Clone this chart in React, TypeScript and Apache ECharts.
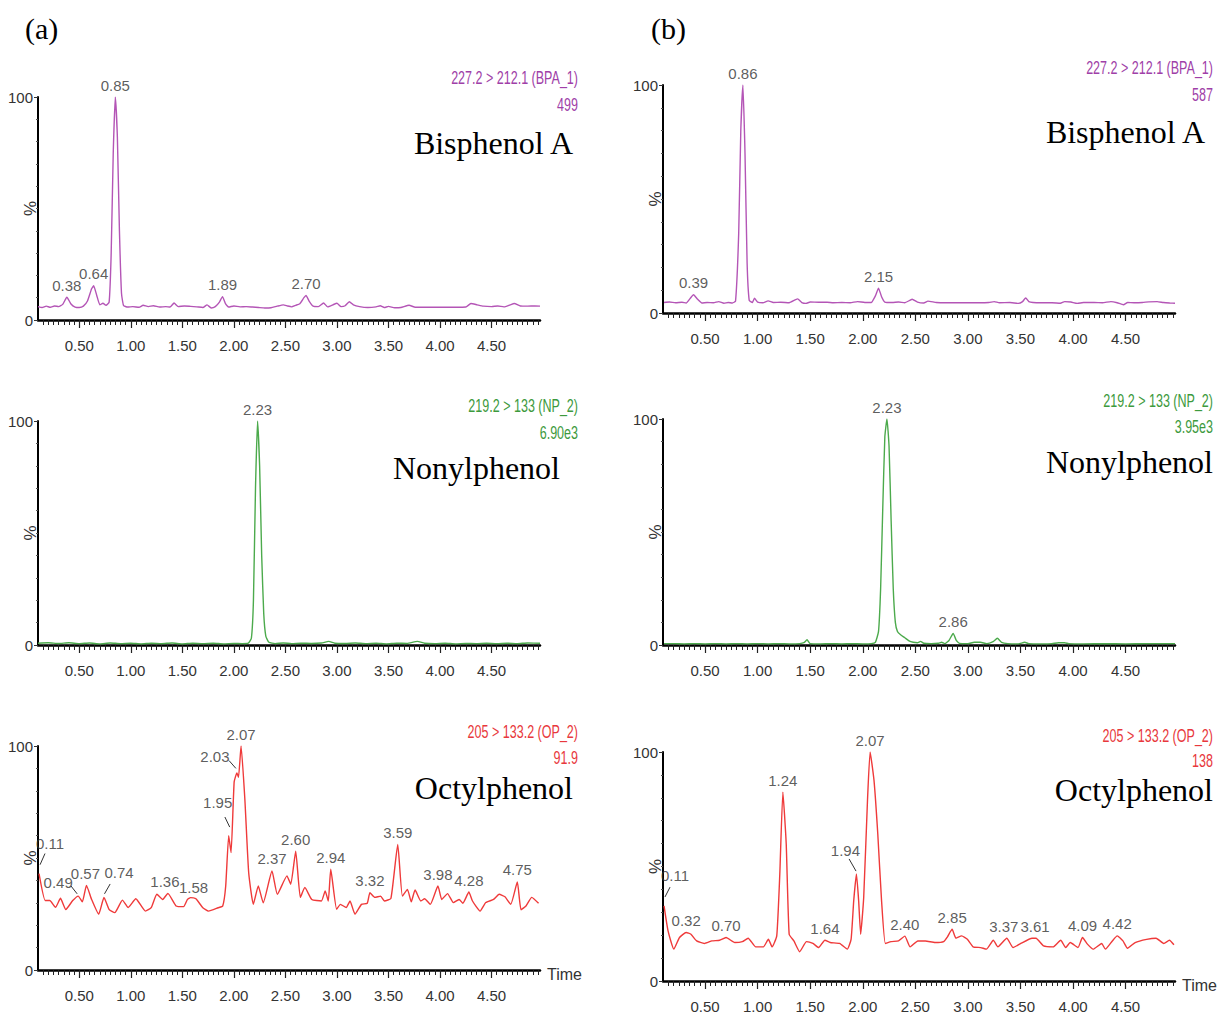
import React, { useEffect, useRef } from "react";
import * as echarts from "echarts";

// ---------- DATA ----------
const BPA_A: number[][] = [[0.10,6.0],[0.14,5.6],[0.18,6.2],[0.22,5.7],[0.26,6.3],[0.30,6.0],[0.34,7.0],[0.38,10.2],[0.42,7.2],[0.46,5.8],[0.50,5.6],[0.54,6.2],[0.58,8.5],[0.62,14.0],[0.64,15.4],[0.67,11.0],[0.70,6.8],[0.73,7.5],[0.76,6.6],[0.79,8.0],[0.81,30],[0.83,75],[0.85,100],[0.87,82],[0.89,40],[0.91,12],[0.93,6.5],[0.97,5.8],[1.02,6.0],[1.08,5.7],[1.12,6.6],[1.17,6.0],[1.22,6.4],[1.28,5.8],[1.34,6.0],[1.38,5.8],[1.42,7.6],[1.46,6.0],[1.52,6.3],[1.58,6.1],[1.64,5.9],[1.70,5.6],[1.74,6.8],[1.78,5.4],[1.82,6.0],[1.86,8.0],[1.89,10.5],[1.92,7.2],[1.95,5.8],[2.00,6.3],[2.06,5.9],[2.12,6.0],[2.18,5.8],[2.24,5.6],[2.30,5.4],[2.36,5.5],[2.42,6.2],[2.48,6.8],[2.52,6.3],[2.56,5.9],[2.60,6.6],[2.64,7.3],[2.68,10.0],[2.70,11.0],[2.73,8.5],[2.77,6.2],[2.82,6.0],[2.87,7.6],[2.91,5.9],[2.96,6.8],[3.00,7.5],[3.04,6.0],[3.08,6.4],[3.12,8.2],[3.16,6.8],[3.22,6.0],[3.30,5.6],[3.38,5.9],[3.42,6.4],[3.46,5.6],[3.50,6.1],[3.56,5.5],[3.62,5.6],[3.70,6.6],[3.76,5.7],[3.85,5.7],[3.95,5.7],[4.05,5.7],[4.15,5.7],[4.25,5.8],[4.30,7.4],[4.36,6.8],[4.42,6.2],[4.50,6.0],[4.56,6.3],[4.62,5.9],[4.68,6.8],[4.72,7.4],[4.78,6.3],[4.85,6.2],[4.92,6.3],[4.97,6.2]];
const BPA_B: number[][] = [[0.11,4.6],[0.16,4.8],[0.22,4.5],[0.28,4.7],[0.32,4.4],[0.36,6.5],[0.39,8.0],[0.43,6.0],[0.47,4.4],[0.52,4.6],[0.58,4.5],[0.63,5.0],[0.68,4.3],[0.72,4.6],[0.76,4.4],[0.79,5.2],[0.82,35],[0.84,80],[0.86,100],[0.88,70],[0.90,22],[0.92,5.5],[0.95,4.6],[0.97,6.5],[1.00,4.8],[1.05,4.5],[1.10,5.3],[1.15,4.6],[1.22,4.7],[1.30,4.5],[1.38,6.2],[1.42,4.6],[1.46,4.2],[1.50,4.8],[1.58,4.7],[1.66,4.7],[1.72,4.5],[1.80,4.6],[1.88,4.5],[1.95,5.0],[2.02,4.6],[2.08,4.6],[2.12,7.5],[2.15,10.9],[2.18,7.0],[2.21,4.8],[2.28,4.6],[2.34,4.8],[2.40,4.5],[2.47,6.0],[2.52,4.8],[2.58,4.4],[2.62,5.2],[2.70,4.6],[2.80,4.5],[2.90,4.5],[3.00,4.5],[3.10,4.5],[3.20,4.6],[3.25,5.0],[3.30,4.5],[3.40,4.6],[3.48,4.2],[3.52,5.0],[3.55,6.6],[3.58,5.0],[3.62,4.6],[3.70,4.5],[3.80,4.5],[3.88,4.3],[3.92,5.0],[3.98,4.8],[4.04,4.2],[4.10,4.6],[4.20,4.6],[4.28,4.5],[4.36,5.0],[4.42,4.5],[4.48,3.6],[4.52,4.6],[4.58,4.5],[4.66,4.6],[4.72,4.9],[4.80,5.0],[4.86,4.6],[4.92,4.4],[4.97,4.3]];
const NP_A: number[][] = [[0.10,0.8],[0.20,1.0],[0.30,0.7],[0.40,1.0],[0.50,0.6],[0.60,0.9],[0.70,0.5],[0.80,0.9],[0.90,0.6],[1.00,0.8],[1.10,0.5],[1.20,0.8],[1.30,0.6],[1.40,0.9],[1.50,0.5],[1.60,0.8],[1.70,0.6],[1.80,0.8],[1.90,0.5],[2.00,0.7],[2.08,0.6],[2.14,0.8],[2.17,3],[2.19,20],[2.21,70],[2.23,100],[2.25,80],[2.27,40],[2.29,14],[2.31,4],[2.34,1.2],[2.40,0.6],[2.48,0.9],[2.56,0.6],[2.65,0.8],[2.75,0.7],[2.85,0.9],[2.92,1.6],[2.98,0.8],[3.08,0.7],[3.18,0.9],[3.28,0.6],[3.38,0.8],[3.48,0.5],[3.58,0.8],[3.68,0.7],[3.78,1.6],[3.85,0.8],[3.95,0.6],[4.05,0.8],[4.15,0.5],[4.25,0.7],[4.35,0.6],[4.45,0.8],[4.55,0.6],[4.65,0.8],[4.75,0.6],[4.85,0.9],[4.97,0.8]];
const NP_B: number[][] = [[0.11,0.6],[0.20,0.6],[0.30,0.5],[0.40,0.6],[0.50,0.5],[0.60,0.6],[0.70,0.5],[0.80,0.6],[0.90,0.5],[1.00,0.6],[1.10,0.5],[1.20,0.6],[1.30,0.5],[1.40,0.6],[1.44,1.0],[1.47,2.3],[1.50,0.6],[1.60,0.5],[1.70,0.6],[1.80,0.5],[1.90,0.6],[2.00,0.5],[2.08,0.6],[2.12,1.2],[2.15,6],[2.17,25],[2.19,60],[2.21,92],[2.23,100],[2.25,88],[2.27,55],[2.29,25],[2.31,10],[2.33,6],[2.36,4.5],[2.40,3.2],[2.44,1.8],[2.48,1.2],[2.52,1.0],[2.55,1.6],[2.58,0.8],[2.65,0.6],[2.72,0.8],[2.75,1.2],[2.78,0.6],[2.82,2.0],[2.86,5.1],[2.89,2.0],[2.92,0.7],[3.00,0.6],[3.06,1.2],[3.12,1.2],[3.18,0.6],[3.24,1.5],[3.28,3.0],[3.32,1.2],[3.38,0.6],[3.48,0.5],[3.54,1.2],[3.58,0.6],[3.70,0.5],[3.80,0.6],[3.86,1.0],[3.92,1.0],[3.96,0.6],[4.10,0.5],[4.30,0.6],[4.50,0.5],[4.70,0.6],[4.97,0.6]];
const OP_A: number[][] = [[0.11,43],[0.17,31],[0.214,31],[0.27,28],[0.318,32],[0.37,27],[0.437,31],[0.49,33],[0.53,30.4],[0.57,37.8],[0.62,31.5],[0.689,24.9],[0.74,32.4],[0.789,27.1],[0.845,25.6],[0.919,31.2],[0.975,27.9],[1.049,31.8],[1.142,26.3],[1.198,27.8],[1.253,33.8],[1.309,31.5],[1.36,34.2],[1.439,28.6],[1.513,28.3],[1.55,31.5],[1.58,32.3],[1.632,31.8],[1.699,27.8],[1.754,26.3],[1.847,27.8],[1.892,28.6],[1.921,37.5],[1.95,60],[1.973,52.4],[2.003,84],[2.03,88],[2.045,86],[2.07,100],[2.107,76],[2.144,43.4],[2.189,29.3],[2.237,37.5],[2.285,30],[2.37,44.2],[2.422,33.8],[2.515,42],[2.552,38.3],[2.60,53],[2.645,32.4],[2.689,36.8],[2.756,31.5],[2.849,30.8],[2.886,35.3],[2.916,30.8],[2.94,45],[2.997,27.1],[3.034,29.3],[3.090,27.9],[3.127,30.8],[3.175,24.9],[3.238,29.3],[3.294,29.8],[3.32,34.5],[3.368,32.4],[3.424,33.0],[3.461,30.8],[3.524,32],[3.59,56],[3.635,33],[3.684,36],[3.721,30.4],[3.758,35.7],[3.814,30.8],[3.851,31.8],[3.906,29.3],[3.98,37.5],[4.017,31.5],[4.073,34.1],[4.129,30.1],[4.185,31.5],[4.222,29.8],[4.28,34.8],[4.315,30.8],[4.389,26.3],[4.444,30.1],[4.519,31.5],[4.574,33.8],[4.630,32.7],[4.686,29.3],[4.75,39.3],[4.786,26.9],[4.834,28.6],[4.890,32.4],[4.956,29.8]];
const OP_B: number[][] = [[0.11,32.8],[0.148,21.9],[0.203,13.9],[0.257,19.0],[0.32,21.2],[0.366,20.4],[0.42,17.5],[0.493,16.4],[0.565,17.5],[0.638,17.8],[0.70,19.0],[0.783,16.8],[0.855,17.2],[0.91,18.7],[0.982,14.9],[1.055,14.9],[1.102,18.2],[1.138,14.9],[1.182,19.7],[1.211,46.7],[1.24,82.5],[1.272,59.9],[1.30,20.4],[1.345,17.5],[1.40,12.8],[1.465,17.2],[1.526,16.4],[1.58,14.6],[1.64,17.8],[1.69,16.8],[1.78,16.4],[1.853,13.9],[1.889,18.2],[1.914,35],[1.94,46.7],[1.961,35],[1.98,20.4],[2.009,36.5],[2.045,78.8],[2.07,100],[2.107,87.6],[2.143,64.2],[2.179,35],[2.215,16.4],[2.27,17.2],[2.34,17.5],[2.40,19.6],[2.451,14.9],[2.524,17.5],[2.596,17.5],[2.687,16.8],[2.77,17.2],[2.806,19.3],[2.85,22.6],[2.886,18.7],[2.941,19.7],[2.995,18.2],[3.05,14.9],[3.122,14.6],[3.176,13.9],[3.242,17.8],[3.285,14.9],[3.37,18.7],[3.43,14.6],[3.503,16.4],[3.61,18.7],[3.648,18.7],[3.72,15.3],[3.811,14.9],[3.883,17.8],[3.93,14.6],[3.974,16.8],[4.047,14.6],[4.09,19.0],[4.137,16.1],[4.192,13.9],[4.272,16.4],[4.308,13.9],[4.374,17.5],[4.42,19.7],[4.475,17.5],[4.518,14.3],[4.591,16.8],[4.70,18.2],[4.79,18.7],[4.863,16.4],[4.917,17.8],[4.96,15.8]];

const BPA_A_PEAKS: number[][] = [[0.38,10.2],[0.64,15.4],[0.85,100],[1.89,10.5],[2.70,11]];
const BPA_B_PEAKS: number[][] = [[0.39,8],[0.86,100],[2.15,10.9]];
const NP_A_PEAKS: number[][] = [[2.23,100]];
const NP_B_PEAKS: number[][] = [[2.23,100],[2.86,5.1]];
const OP_A_PEAKS: number[][] = [[0.11,43],[0.49,33],[0.57,37.8],[0.74,32.4],[1.36,34.2],[1.58,32.3],[1.95,60],[2.03,88],[2.07,100],[2.37,44.2],[2.60,53],[2.94,45],[3.32,34.5],[3.59,56],[3.98,37.5],[4.28,34.8],[4.75,39.3]];
const OP_B_PEAKS: number[][] = [[0.11,32.8],[0.32,21.2],[0.70,19],[1.24,82.5],[1.64,17.8],[1.94,46.7],[2.07,100],[2.40,19.6],[2.85,22.6],[3.37,18.7],[3.61,18.7],[4.09,19],[4.42,19.7]];

// leader lines (data coordinates) for displaced peak labels
const OP_A_LEADERS: number[][][] = [[[0.12,47],[0.168,52]],[[0.42,37.5],[0.48,34]],[[0.745,34],[0.80,38.4]],[[1.913,68.3],[1.96,63.8]],[[1.953,93.5],[2.02,90]]];
const OP_B_LEADERS: number[][][] = [[[0.119,36.7],[0.167,41]],[[1.87,53.3],[1.936,48]]];

const X_LABELS: number[] = [0.5, 1.0, 1.5, 2.0, 2.5, 3.0, 3.5, 4.0, 4.5];
const CHANNELS: string[] = ["227.2 > 212.1 (BPA_1)", "219.2 > 133 (NP_2)", "205 > 133.2 (OP_2)"];
const INTENSITY_A: string[] = ["499", "6.90e3", "91.9"];
const INTENSITY_B: string[] = ["587", "3.95e3", "138"];
const COMPOUNDS: string[] = ["Bisphenol A", "Nonylphenol", "Octylphenol"];
const PANEL_TAGS: string[] = ["(a)", "(b)"];

// ---------- STYLE / LAYOUT ----------
const SANS = "'Liberation Sans', Arial, sans-serif";
const SERIF = "'Liberation Serif', 'Times New Roman', serif";
const TRACE = ["#b455b6", "#4caa4c", "#ef3a3a"];
const TEXTC = ["#a03fa8", "#3d9a3d", "#e8383c"];
const X_MIN = 0.1;
const X_MAX = 4.97;

const MINOR_TICKS: number[] = [];
for (let k = 3; k <= 99; k++) MINOR_TICKS.push(Math.round(k * 5) / 100);

type Panel = {
  data: number[][];
  peaks: number[][];
  leaders: number[][][];
  offsets: Record<string, number[]>;
  row: number;
  col: number;
  grid: { left: number; top: number; width: number; height: number };
};

const PANELS: Panel[] = [
  { data: BPA_A, peaks: BPA_A_PEAKS, leaders: [], offsets: {}, row: 0, col: 0, grid: { left: 38, top: 97, width: 502, height: 223 } },
  { data: NP_A, peaks: NP_A_PEAKS, leaders: [], offsets: {}, row: 1, col: 0, grid: { left: 38, top: 421, width: 502, height: 224 } },
  { data: OP_A, peaks: OP_A_PEAKS, leaders: OP_A_LEADERS, offsets: { "0.11": [11, -18], "0.49": [-20, -2], "0.57": [-1, 0], "0.74": [15, -13], "1.36": [-3, 0], "1.58": [3, 2], "1.95": [-11, -21], "2.03": [-22, -4] }, row: 2, col: 0, grid: { left: 38, top: 746, width: 502, height: 224 } },
  { data: BPA_B, peaks: BPA_B_PEAKS, leaders: [], offsets: {}, row: 0, col: 1, grid: { left: 663, top: 85, width: 512, height: 228 } },
  { data: NP_B, peaks: NP_B_PEAKS, leaders: [], offsets: {}, row: 1, col: 1, grid: { left: 663, top: 419, width: 512, height: 226 } },
  { data: OP_B, peaks: OP_B_PEAKS, leaders: OP_B_LEADERS, offsets: { "0.11": [11, -18], "1.94": [-11, -12], "3.37": [-3, 0], "3.61": [3, 0] }, row: 2, col: 1, grid: { left: 663, top: 752, width: 512, height: 229 } },
];

const CHANNEL_POS = [
  [[578, 77, 104], [578, 405, 432], [578, 731, 757]],
  [[1213, 67, 94], [1213, 400, 426], [1213, 735, 760]],
];
const COMPOUND_POS = [
  [[573, 143], [560, 468], [573, 788]],
  [[1205, 132], [1213, 462], [1213, 790]],
];

function narrowText(x: number, y: number, text: string, fill: string, size: number, align: string, rotation = 0, sx = 0.66) {
  return {
    type: "text", x, y, rotation, scaleX: sx, silent: true,
    style: { text, fill, font: `${size}px ${SANS}`, align, verticalAlign: "middle", textAlign: align, textVerticalAlign: "middle" },
  };
}

function buildOption() {
  const grid: any[] = [];
  const xAxis: any[] = [];
  const yAxis: any[] = [];
  const series: any[] = [];
  const graphic: any[] = [];

  PANELS.forEach((p, i) => {
    grid.push({ ...p.grid, containLabel: false, outerBoundsMode: "none" });
    const isBottom = p.row === 2;
    xAxis.push({
      type: "value", gridIndex: i, min: X_MIN, max: X_MAX, position: "bottom",
      axisLine: { show: true, onZero: false, lineStyle: { color: "#000", width: 2.5 } },
      axisTick: { show: true, customValues: X_LABELS, length: 8, lineStyle: { color: "#222", width: 1.2 } },
      axisLabel: { show: true, customValues: X_LABELS, formatter: (v: number) => v.toFixed(2), margin: 18, fontSize: 15, color: "#333", fontFamily: SANS },
      splitLine: { show: false },
      name: isBottom ? "Time" : "",
      nameLocation: "end", nameGap: 7,
      nameTextStyle: { fontSize: 16, color: "#333", fontFamily: SANS, verticalAlign: "top", padding: [-4, 0, 0, 0] },
    });
    xAxis.push({
      type: "value", gridIndex: i, min: X_MIN, max: X_MAX, position: "bottom",
      axisLine: { show: false, onZero: false },
      axisTick: { show: true, customValues: MINOR_TICKS, length: 5, lineStyle: { color: "#222", width: 1 } },
      axisLabel: { show: false },
      splitLine: { show: false },
    });
    yAxis.push({
      type: "value", gridIndex: i, min: 0, max: 100, interval: 100,
      axisLine: { show: true, lineStyle: { color: "#000", width: 2 } },
      axisTick: { show: true, length: 4, lineStyle: { color: "#333" } },
      minorTick: { show: true, splitNumber: 10, length: 2, lineStyle: { color: "#555" } },
      axisLabel: { fontSize: 15, color: "#333", margin: 5, fontFamily: SANS },
      splitLine: { show: false },
      minorSplitLine: { show: false },
    });
    const xi = i * 2;
    series.push({
      type: "line", xAxisIndex: xi, yAxisIndex: i, data: p.data,
      showSymbol: false, symbol: "none", smooth: 0.15, silent: true,
      lineStyle: { color: TRACE[p.row], width: 1.4 }, z: 2,
    });
    series.push({
      type: "scatter", xAxisIndex: xi, yAxisIndex: i, symbolSize: 1, silent: true,
      itemStyle: { color: "rgba(0,0,0,0)" }, z: 4,
      data: p.peaks.map((pk) => {
        const txt = pk[0].toFixed(2);
        const off = p.offsets[txt];
        return { value: pk, label: off ? { offset: off } : undefined };
      }),
      label: {
        show: true, position: "top", distance: 4, fontSize: 15, color: "#333", fontFamily: SANS,
        formatter: (pp: any) => pp.value[0].toFixed(2),
      },
    });
    if (p.leaders.length) {
      series.push({
        type: "lines", coordinateSystem: "cartesian2d", xAxisIndex: xi, yAxisIndex: i, silent: true,
        data: p.leaders.map((c) => ({ coords: c })),
        lineStyle: { color: "#333", width: 1, opacity: 1 }, z: 3,
      });
    }
    // "%" y-axis title
    graphic.push(narrowText(p.grid.left - 8, p.grid.top + p.grid.height / 2, "%", "#333", 17, "center", Math.PI / 2, 1));
    const cp = CHANNEL_POS[p.col][p.row];
    const intens = p.col === 0 ? INTENSITY_A : INTENSITY_B;
    graphic.push(narrowText(cp[0], cp[1], CHANNELS[p.row], TEXTC[p.row], 19, "right"));
    graphic.push(narrowText(cp[0], cp[2], intens[p.row], TEXTC[p.row], 19, "right"));
    const mp = COMPOUND_POS[p.col][p.row];
    graphic.push({
      type: "text", x: mp[0], y: mp[1], silent: true,
      style: { text: COMPOUNDS[p.row], fill: "#000", font: `32px ${SERIF}`, align: "right", verticalAlign: "middle", textAlign: "right", textVerticalAlign: "middle" },
    });
  });

  graphic.push({ type: "text", x: 25, y: 28, silent: true, style: { text: PANEL_TAGS[0], fill: "#000", font: `30px ${SERIF}`, align: "left", verticalAlign: "middle", textAlign: "left", textVerticalAlign: "middle" } });
  graphic.push({ type: "text", x: 651, y: 28, silent: true, style: { text: PANEL_TAGS[1], fill: "#000", font: `30px ${SERIF}`, align: "left", verticalAlign: "middle", textAlign: "left", textVerticalAlign: "middle" } });

  return { animation: false, backgroundColor: "#fff", grid, xAxis, yAxis, series, graphic };
}

export default function App() {
  const ref = useRef<HTMLDivElement>(null);
  useEffect(() => {
    if (!ref.current) return;
    const chart = echarts.init(ref.current, undefined, { renderer: "svg" });
    chart.setOption(buildOption() as any);
    return () => chart.dispose();
  }, []);
  return <div ref={ref} style={{ position: "absolute", left: 0, top: 0, width: 1218, height: 1019 }} />;
}
